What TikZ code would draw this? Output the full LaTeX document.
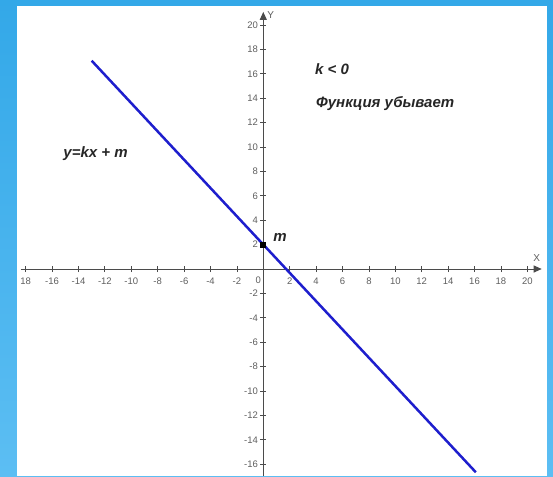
\documentclass[tikz,border=0pt]{standalone}
\usepackage{fontspec}
\setmainfont{Liberation Sans}
\usetikzlibrary{arrows.meta,positioning}
\definecolor{slideblue}{RGB}{51,168,232}
\definecolor{slidebluelight}{RGB}{92,190,243}
\definecolor{axisgray}{RGB}{75,75,75}
\definecolor{ticktext}{RGB}{95,95,95}
\definecolor{graphblue}{RGB}{30,30,205}
\tikzset{
  axisline/.style={draw=axisgray,line width=1pt,-{Triangle[length=8pt,width=7pt]}},
  tickmark/.style={draw=axisgray,line width=0.8pt},
  ticklbl/.style={font=\fontsize{9.5}{11}\selectfont,text=ticktext,inner sep=0pt},
  axislbl/.style={font=\fontsize{10}{11}\selectfont,text=ticktext,inner sep=0pt},
  graphline/.style={draw=graphblue,line width=2.5pt},
  mathlbl/.style={font=\fontsize{15}{17}\selectfont\bfseries\itshape,
    text=black!85,inner sep=0pt},
  interceptpt/.style={rectangle,fill=black,minimum size=6pt,inner sep=0pt},
}

\begin{document}
\begin{tikzpicture}[x=13.2pt,y=12.2pt]

% ── Slide frame ──────────────────────────────────────────────────────────
\useasboundingbox (-19.947,-16.967) rectangle (21.947,22.049);
\shade[top color=slideblue,bottom color=slidebluelight]
  (-19.947,-16.967) rectangle (21.947,22.049);
\fill[white] (-18.659,-16.967) rectangle (21.492,21.557);

% ── Axes ─────────────────────────────────────────────────────────────────
\coordinate (xstart) at (-18.38,0);
\coordinate (xend)   at (21.09,0);
\coordinate (ystart) at (0,-16.97);
\coordinate (yend)   at (0,21.07);
\draw[axisline] (xstart) -- (xend);
\draw[axisline] (ystart) -- (yend);
\node[axislbl] (xname) at (20.71,0.90) {X};
\node[axislbl] (yname) at (0.56,20.82) {Y};

% ── Ticks and tick labels ────────────────────────────────────────────────
\foreach \x in {-18,-16,...,-2,2,4,...,20}
  \draw[tickmark] (\x,-0.25) -- (\x,0.25);
\foreach \y in {-16,-14,...,-2,2,4,...,20}
  \draw[tickmark] (-0.23,\y) -- (0.23,\y);
\node[ticklbl] (xlbl0) at (-18,-0.98) {18};
\foreach \x [count=\i] in {-16,-14,...,-2,2,4,...,20}
  \node[ticklbl] (xlbl\i) at (\x,-0.98) {\x};
\node[ticklbl] (origin) at (-0.38,-0.90) {0};
\foreach \y [count=\i] in {-16,-14,...,-2,2,4,...,20}
  \node[ticklbl,anchor=east] (ylbl\i) at (-0.40,\y) {\y};

% ── Graph of y = kx + m ──────────────────────────────────────────────────
\coordinate (lineA) at (-13.0,17.07);
\coordinate (lineB) at (16.1,-16.66);
\draw[graphline] (lineA) -- (lineB);
\node[interceptpt] (mpt) at (0,2) {};
\node[mathlbl] (mname) at (1.27,2.62) {m};

% ── Captions ─────────────────────────────────────────────────────────────
\node[mathlbl] (formula) at (-12.71,9.48) {y=kx + m};
\node[mathlbl,anchor=west] (kneg) at (3.92,16.4) {k < 0};
\node[mathlbl,anchor=west] (decr) at (3.99,13.58) {Функция убывает};

\end{tikzpicture}
\end{document}
